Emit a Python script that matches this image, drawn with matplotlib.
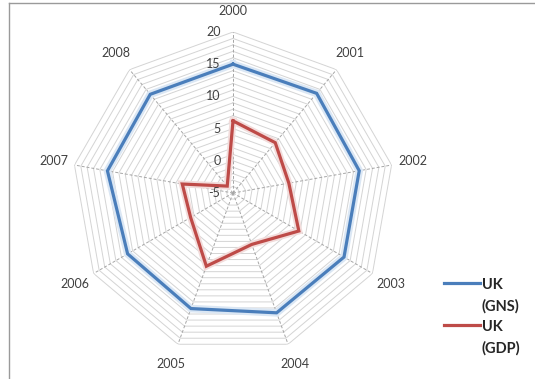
import numpy as np
import matplotlib
matplotlib.use("Agg")
import matplotlib.pyplot as plt
from matplotlib.lines import Line2D

plt.rcParams['font.family'] = ['Lato', 'DejaVu Sans']

# UK savings vs growth, per year
years = ['2000', '2001', '2002', '2003', '2004', '2005', '2006', '2007', '2008']
gns = [15.0, 15.2, 14.9, 14.9, 14.8, 14.1, 13.9, 14.8, 15.0]
gdp = [6.2, 5.2, 3.8, 6.8, 3.5, 7.1, 2.6, 3.0, -3.6]
r_ticks = [-5, 0, 5, 10, 15, 20]
series_names = ['UK\n(GNS)', 'UK\n(GDP)']

blue = '#4a7ebb'
red = '#be4b48'
grid_col = '#d4d4d4'
text_col = '#404040'

n = len(years)
theta = np.linspace(0, 2 * np.pi, n, endpoint=False)
theta_closed = np.append(theta, theta[0])

fig = plt.figure(figsize=(5.35, 3.79), dpi=100)
ax = fig.add_axes([0.1346, 0.066, 0.6019, 0.8496], projection='polar')
ax.set_theta_zero_location('N')
ax.set_theta_direction(-1)
ax.set_ylim(-5, 20)
ax.grid(False)
ax.set_xticks([])
ax.set_yticks([])
ax.spines['polar'].set_visible(False)
ax.patch.set_alpha(0)

# polygon rings every unit
for r in range(-4, 21):
    ax.plot(theta_closed, [r] * (n + 1), color=grid_col, lw=0.7, zorder=1)

# spokes
for t in theta:
    ax.plot([t, t], [-5, 20], color='#a6a6a6', lw=0.7, ls=(0, (3, 2)), zorder=1)

# series, with a soft halo underneath
ax.plot(theta_closed, gns + gns[:1], color='#dbe7f4', lw=5.5, zorder=2,
        solid_joinstyle='miter')
ax.plot(theta_closed, gdp + gdp[:1], color='#f2dcdb', lw=5.0, zorder=2,
        solid_joinstyle='miter')
ax.plot(theta_closed, gns + gns[:1], color=blue, lw=2.3, zorder=3,
        solid_joinstyle='miter')
ax.plot(theta_closed, gdp + gdp[:1], color=red, lw=2.3, zorder=3,
        solid_joinstyle='miter')

# category labels
for t, y in zip(theta, years):
    ax.text(t, 23.3, y, ha='center', va='center', fontsize=9,
            color=text_col, clip_on=False)

# radial value labels along the first spoke
for v in r_ticks:
    ax.annotate(str(v), xy=(0, v), xytext=(-9, 0), textcoords='offset points',
                ha='right', va='center', fontsize=9, color=text_col)

# legend: short line next to a two-line bold label
W, H = 535, 379
for i, (name, col) in enumerate(zip(series_names, [blue, red])):
    y_line = 283 + i * 42
    fig.add_artist(Line2D([444 / W, 480 / W], [1 - y_line / H, 1 - y_line / H],
                          transform=fig.transFigure, color=col, lw=2.3))
    fig.text(482 / W, 1 - (y_line - 5) / H, name, ha='left', va='top',
             fontsize=10.5, fontweight='bold', color='#262626', linespacing=1.6)

# chart frame
fig.add_artist(Line2D([9 / W, 9 / W], [0, 1 - 3 / H],
                      transform=fig.transFigure, color='#9a9a9a', lw=1))
fig.add_artist(Line2D([9 / W, 1], [1 - 3 / H, 1 - 3 / H],
                      transform=fig.transFigure, color='#9a9a9a', lw=1))

fig.savefig('out.png', dpi=100)
